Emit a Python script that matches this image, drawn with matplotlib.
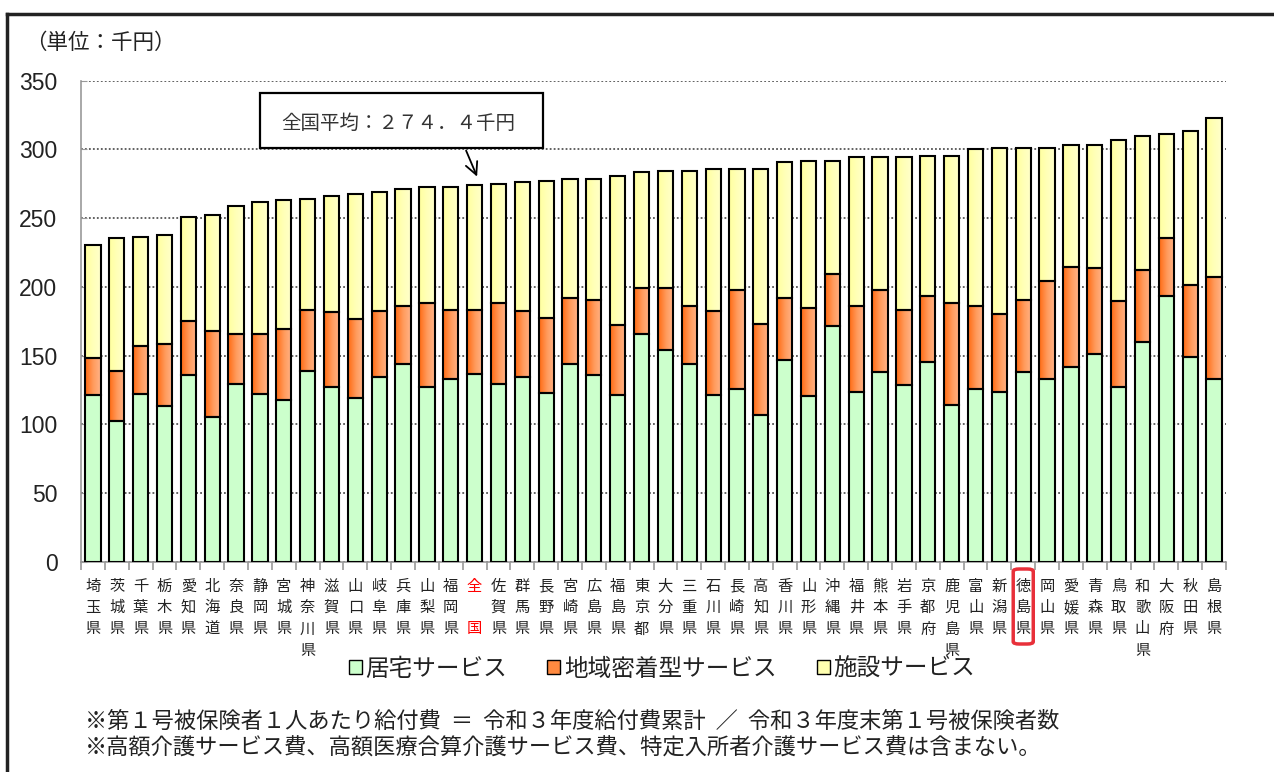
import numpy as np
import matplotlib
matplotlib.use("Agg")
import matplotlib.pyplot as plt
from matplotlib.patches import Rectangle, Patch, FancyBboxPatch
from matplotlib.colors import LinearSegmentedColormap
import matplotlib.transforms as mtransforms

plt.rcParams['font.family'] = ['Noto Sans CJK JP', 'DejaVu Sans']

# ---------------- data ----------------
prefectures = ["埼玉県", "茨城県", "千葉県", "栃木県", "愛知県", "北海道", "奈良県", "静岡県",
               "宮城県", "神奈川県", "滋賀県", "山口県", "岐阜県", "兵庫県", "山梨県", "福岡県",
               "全\u3000国", "佐賀県", "群馬県", "長野県", "宮崎県", "広島県", "福島県", "東京都",
               "大分県", "三重県", "石川県", "長崎県", "高知県", "香川県", "山形県", "沖縄県",
               "福井県", "熊本県", "岩手県", "京都府", "鹿児島県", "富山県", "新潟県", "徳島県",
               "岡山県", "愛媛県", "青森県", "鳥取県", "和歌山県", "大阪府", "秋田県", "島根県"]

home_service = [121.5, 102.2, 122.2, 113.3, 135.7, 105.8, 129.7, 122.5, 117.6, 139.1, 127.1, 119.3,
                134.3, 144.0, 127.1, 133.1, 136.7, 129.5, 134.8, 123.0, 144.0, 135.7, 121.3, 165.7,
                154.1, 144.0, 121.3, 125.8, 107.2, 146.6, 121.0, 171.6, 123.7, 138.4, 129.0, 145.2,
                114.5, 126.1, 123.7, 138.4, 133.3, 141.8, 151.2, 127.3, 159.9, 193.2, 148.8, 133.3]

community_service = [26.8, 36.4, 35.0, 45.4, 39.7, 62.3, 36.0, 43.2, 51.7, 44.5, 54.5, 57.3,
                     48.3, 42.0, 61.5, 50.4, 46.9, 59.1, 47.8, 54.5, 48.0, 55.1, 51.4, 33.3,
                     44.9, 42.2, 61.3, 72.3, 65.7, 45.7, 64.0, 37.5, 62.3, 59.7, 54.6, 48.0,
                     74.1, 59.9, 56.3, 52.4, 70.8, 72.9, 62.6, 62.6, 52.4, 42.1, 52.9, 74.2]

facility_service = [82.1, 96.9, 79.3, 79.0, 75.6, 84.1, 93.5, 96.1, 93.7, 80.6, 84.6, 91.3,
                    86.5, 85.3, 83.9, 89.0, 90.8, 86.5, 93.5, 99.8, 86.5, 87.7, 108.2, 84.3,
                    85.5, 98.3, 103.1, 87.6, 112.8, 98.3, 106.8, 82.7, 108.2, 96.1, 110.6, 102.2,
                    106.8, 114.2, 121.2, 110.4, 97.1, 88.9, 89.8, 117.3, 97.4, 75.6, 111.6, 115.5]

series_names = ["居宅サービス", "地域密着型サービス", "施設サービス"]
national_label = "全\u3000国"
highlight_label = "徳島県"
national_text = "全国平均：２７４．４千円"
unit_text = "（単位：千円）"
notes = ["※第１号被保険者１人あたり給付費  ＝  令和３年度給付費累計  ／  令和３年度末第１号被保険者数",
         "※高額介護サービス費、高額医療合算介護サービス費、特定入所者介護サービス費は含まない。"]
yticks = [0, 50, 100, 150, 200, 250, 300, 350]

# ---------------- figure ----------------
W, H = 1274, 772
fig = plt.figure(figsize=(W / 100, H / 100), dpi=100)
ax = fig.add_axes([81 / W, 1 - 562 / H, (1226 - 81) / W, (562 - 80.7) / H])

home = np.array(home_service)
comm = np.array(community_service)
fac = np.array(facility_service)
x = np.arange(len(prefectures))
bw = 0.64

green = "#CCFFCC"
orange_cmap = LinearSegmentedColormap.from_list("o", ["#FF6A12", "#FF9A5A", "#FFB48A"])
yellow_cmap = LinearSegmentedColormap.from_list("y", ["#FFFF9E", "#FFFFB8", "#FFFFCC"])
grad = np.linspace(0, 1, 64).reshape(1, -1)

edge_kw = dict(edgecolor="black", linewidth=1.5)
ax.bar(x, home, bw, color=green, zorder=3, **edge_kw)
bottom2 = home
bottom3 = home + comm
for i in x:
    x0, x1 = i - bw / 2, i + bw / 2
    ax.imshow(grad, extent=[x0, x1, bottom2[i], bottom2[i] + comm[i]], cmap=orange_cmap,
              aspect="auto", interpolation="bilinear", zorder=2.5)
    ax.imshow(grad, extent=[x0, x1, bottom3[i], bottom3[i] + fac[i]], cmap=yellow_cmap,
              aspect="auto", interpolation="bilinear", zorder=2.5)
ax.bar(x, comm, bw, bottom=bottom2, color="none", zorder=3, **edge_kw)
ax.bar(x, fac, bw, bottom=bottom3, color="none", zorder=3, **edge_kw)

ax.set_xlim(-0.5, len(prefectures) - 0.5)
ax.set_ylim(0, 350)
ax.set_yticks(yticks)
ax.set_yticklabels([str(v) for v in yticks], family=["Liberation Sans", "DejaVu Sans"],
                   fontsize=16.5, color="#222222")
ax.tick_params(axis="y", direction="in", length=4, color="#999999", pad=17)
ax.set_xticks([])
ax.set_xticks(np.arange(-0.5, len(prefectures), 1), minor=True)
ax.tick_params(axis="x", which="minor", direction="out", length=6, color="#999999", width=1.2)
ax.yaxis.grid(True, linestyle=(0, (1, 1.2)), color="#555555", linewidth=1.3, zorder=0)
ax.set_axisbelow(True)
for s in ["top", "right"]:
    ax.spines[s].set_visible(False)
ax.spines["left"].set_color("#999999")
ax.spines["bottom"].set_color("#999999")
ax.spines["left"].set_linewidth(1.2)
ax.spines["bottom"].set_linewidth(1.2)

# vertical category labels
trans = mtransforms.blended_transform_factory(ax.transData, fig.transFigure)
row_y = [586, 607.5, 629, 650.5]
for i, lab in enumerate(prefectures):
    col = "#FF0000" if lab == national_label else "#222222"
    for r, ch in enumerate(lab):
        if ch.strip() == "":
            continue
        ax.text(i, 1 - row_y[r] / H, ch, transform=trans, ha="center", va="center",
                fontsize=11, color=col, clip_on=False)
    if lab == highlight_label:
        ax.add_patch(FancyBboxPatch((i - 0.42, 1 - 644 / H), 0.84, 75 / H,
                                    boxstyle="round,pad=0,rounding_size=0.25",
                                    transform=trans, fill=False, edgecolor="#E8303A",
                                    linewidth=2.5, clip_on=False, mutation_aspect=0.012))

# national average annotation
nat = prefectures.index(national_label)
nat_total = home[nat] + comm[nat] + fac[nat]
fig.patches.append(Rectangle((260 / W, 1 - 148 / H), (543 - 260) / W, 55 / H,
                             transform=fig.transFigure, fill=True, facecolor="white",
                             edgecolor="black", linewidth=1.6, zorder=5))
fig.text(398 / W, 1 - 123 / H, national_text, ha="center", va="center", fontsize=14,
         color="#333333", zorder=6)
ax.annotate("", xy=(nat + 0.15, nat_total + 4), xycoords="data",
            xytext=(465, H - 148), textcoords="figure pixels",
            arrowprops=dict(arrowstyle="->", color="black", lw=1.3, mutation_scale=22),
            annotation_clip=False)

# unit label
fig.text(25 / W, 1 - 43 / H, unit_text, ha="left", va="center", fontsize=15.5, color="#222222")

# legend
handles = [Patch(facecolor=green, edgecolor="black", linewidth=1.0),
           Patch(facecolor="#FF8A40", edgecolor="black", linewidth=1.0),
           Patch(facecolor="#FFFFB0", edgecolor="black", linewidth=1.0)]
fig.legend(handles, series_names, loc="center", bbox_to_anchor=(662 / W, 1 - 669 / H),
           ncol=3, frameon=False, fontsize=17, handlelength=0.55, handleheight=0.55,
           handletextpad=0.15, columnspacing=1.7, labelcolor="#222222")

# footnotes
fig.text(85 / W, 1 - 721 / H, notes[0], ha="left", va="center", fontsize=16, color="#222222")
fig.text(85 / W, 1 - 748 / H, notes[1], ha="left", va="center", fontsize=16, color="#222222")

# outer frame
fig.add_artist(plt.Line2D([7 / W, 7 / W], [0, 1 - 14 / H], transform=fig.transFigure,
                          color="#222222", linewidth=2.5))
fig.add_artist(plt.Line2D([7 / W, 1.0], [1 - 14 / H, 1 - 14 / H], transform=fig.transFigure,
                          color="#222222", linewidth=2.5))

fig.savefig("out.png", dpi=100)
